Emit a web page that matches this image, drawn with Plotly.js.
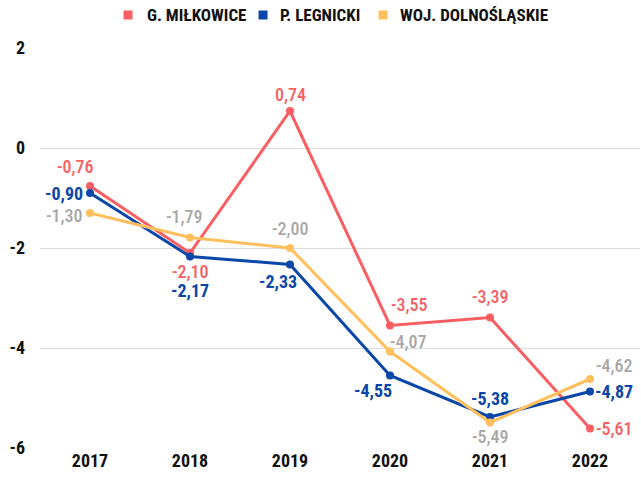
<!DOCTYPE html>
<html><head><meta charset="utf-8">
<script src="https://cdn.plot.ly/plotly-3.0.1.min.js"></script>
<style>html,body{margin:0;padding:0;background:#fff}</style>
</head><body><div id="chart" style="width:641px;height:488px"></div>
<div id="err" style="position:absolute;left:0;top:0;font:12px monospace;color:#000"></div>
<script>
var years = ['2017','2018','2019','2020','2021','2022'];
var milkowice = [-0.76, -2.10, 0.74, -3.55, -3.39, -5.61];
var legnicki = [-0.90, -2.17, -2.33, -4.55, -5.38, -4.87];
var dolnoslaskie = [-1.30, -1.79, -2.00, -4.07, -5.49, -4.62];
var names = ['G. MIŁKOWICE', 'P. LEGNICKI', 'WOJ. DOLNOŚLĄSKIE'];
var yTicks = [2, 0, -2, -4, -6];

var colors = ['#f85e62', '#0b47a8', '#ffbf5c'];
var labelColors = ['#f85e62', '#0b47a8', '#a8a8a8'];
var labelWeights = [500, 'bold', 500];
// label offsets (px) per point: [dx, dy], dy positive = up
var offsets = [
  [[-15,20],[0,-18],[0,17],[19,21],[0,21],[24,0]],
  [[-26,0],[0,-34],[-12,-17],[-17,-15],[0,19],[24,0]],
  [[-26,-2],[-6,21],[0,20],[18,10],[0,-14],[24,14]]
];
// custom legend placement (paper coords)
var legendSquareX = [0.1467, 0.3717, 0.5717];
var legendTextX = [0.175, 0.3967, 0.5967];
var series = [milkowice, legnicki, dolnoslaskie];
var font = 'Roboto Condensed, Roboto, sans-serif';

try {
var traces = [];
var annotations = [];
var shapes = [];
series.forEach(function(s, i){
  traces.push({x: years.map(function(_, j){return j;}), y: s, type:'scatter', mode:'lines+markers', showlegend:false,
    line:{color:colors[i], width:3}, marker:{color:colors[i], size:8}, hoverinfo:'skip'});
  s.forEach(function(v, j){
    annotations.push({x: j, y: v, xref:'x', yref:'y', showarrow:false,
      text: v.toFixed(2).replace('.', ','), xshift: offsets[i][j][0], yshift: offsets[i][j][1],
      font:{family:font, size:18, color:labelColors[i], weight:labelWeights[i]}});
  });
  shapes.push({type:'rect', xref:'paper', yref:'paper', xsizemode:'pixel', ysizemode:'pixel',
    xanchor:legendSquareX[i], yanchor:1.0825, x0:-4.5, x1:4.5, y0:-4.5, y1:4.5,
    fillcolor:colors[i], line:{width:0}});
  annotations.push({x:legendTextX[i], y:1.0825, xref:'paper', yref:'paper', xanchor:'left', yanchor:'middle',
    showarrow:false, text:names[i], font:{family:font, size:17, weight:'bold', color:'#111'}});
});

var layout = {
  width:641, height:488,
  margin:{l:40, r:1, t:48, b:40, autoexpand:false},
  paper_bgcolor:'#fff', plot_bgcolor:'#fff',
  showlegend:false,
  xaxis:{range:[-0.5,5.5], tickvals:[0,1,2,3,4,5], ticktext:years, showgrid:false, zeroline:false, showline:false,
    ticks:'', tickfont:{family:font, size:18, weight:'bold', color:'#111'}},
  yaxis:{range:[-6,2], tickvals:yTicks, ticktext:yTicks.map(String), showgrid:true, gridcolor:'#dcdcdc', gridwidth:1,
    zeroline:false, showline:false, ticks:'', ticklabelstandoff:14,
    tickfont:{family:font, size:18, weight:'bold', color:'#111'}},
  annotations: annotations,
  shapes: shapes
};
Plotly.newPlot('chart', traces, layout, {displayModeBar:false}).then(null, function(e){document.getElementById('err').textContent='rej '+e;});
} catch(e) { document.getElementById('err').textContent = e.message; }
</script></body></html>
